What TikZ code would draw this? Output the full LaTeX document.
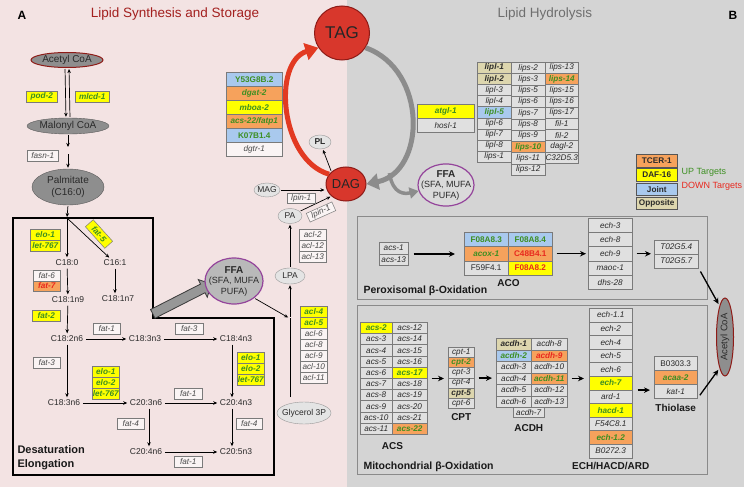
\documentclass[tikz,border=0pt]{standalone}
\usepackage{fontspec}
\setmainfont{Liberation Sans}
\usetikzlibrary{arrows.meta,shapes.geometric,shapes.arrows,positioning}

\definecolor{PinkBg}{HTML}{F3E3E3}
\definecolor{GrayBg}{HTML}{D4D4D4}
\definecolor{TitleRed}{HTML}{A3201F}
\definecolor{TitleGray}{HTML}{6E6E6E}
\definecolor{UpGreen}{HTML}{3D8F22}
\definecolor{DownRed}{HTML}{E8281E}
\definecolor{BoxYellow}{HTML}{FFFF00}
\definecolor{BoxOrange}{HTML}{F6A25C}
\definecolor{BoxBlue}{HTML}{A9C9EE}
\definecolor{BoxTan}{HTML}{DDD6AE}
\definecolor{BoxLight}{HTML}{E0E0E0}
\definecolor{BoxWhite}{HTML}{FAF4F4}
\definecolor{BoxLine}{HTML}{7A7A7A}
\definecolor{TextDark}{HTML}{2A2A2A}
\definecolor{EllGray}{HTML}{8E8E8E}
\definecolor{EllLight}{HTML}{E4E4E4}
\definecolor{FfaGray}{HTML}{B9B9B9}
\definecolor{FfaLight}{HTML}{DADADA}
\definecolor{FfaPurple}{HTML}{94449B}
\definecolor{DagRed}{HTML}{D8372C}
\definecolor{DarkRed}{HTML}{8E1B17}
\definecolor{ArcRed}{HTML}{E23A22}
\definecolor{ArcGray}{HTML}{8C8C8C}
\definecolor{FrameGray}{HTML}{8A8A8A}

\newcommand{\GeneFont}{\fontsize{8.2}{9}\selectfont}

\begin{document}
\begin{tikzpicture}[
    % Environment Config
    x=1pt, y=-1pt,
    font=\fontsize{9}{10.5}\selectfont,
    Gene/.style={% Style for a gene box
      draw=BoxLine, line width=0.5pt,
      inner sep=0pt, anchor=north west,
      font=\GeneFont\itshape, text=TextDark
    },
    wht/.style={fill=BoxWhite, text=TextDark!85},
    lgt/.style={fill=BoxLight},
    lgtn/.style={fill=BoxLight, font=\GeneFont},
    yup/.style={fill=BoxYellow, text=UpGreen, font=\GeneFont\bfseries\itshape},
    oup/.style={fill=BoxOrange, text=UpGreen, font=\GeneFont\bfseries\itshape},
    bup/.style={fill=BoxBlue, text=UpGreen, font=\GeneFont\bfseries\itshape},
    bupn/.style={fill=BoxBlue, text=UpGreen, font=\GeneFont\bfseries},
    odn/.style={fill=BoxOrange, text=DownRed, font=\GeneFont\bfseries\itshape},
    odnn/.style={fill=BoxOrange, text=DownRed, font=\GeneFont\bfseries},
    ydnn/.style={fill=BoxYellow, text=DownRed, font=\GeneFont\bfseries},
    tanb/.style={fill=BoxTan, font=\GeneFont\bfseries\itshape},
    Leg/.style={% Style for the legend boxes
      Gene, draw=BoxLine!70!black, minimum width=41pt, minimum height=12.5pt,
      font=\GeneFont\bfseries
    },
    Acid/.style={font=\fontsize{8.5}{10}\selectfont, text=TextDark, inner sep=1.5pt},
    Arr/.style={% Style for the thin reaction arrows
      -{Stealth[length=4pt,width=3.5pt]},
      line width=0.7pt,
      shorten >=1pt,
      shorten <=1pt
    },
    OxArr/.style={% Style for the oxidation arrows
      -{Stealth[length=6pt,width=5.5pt]},
      line width=1.3pt,
      shorten >=4pt,
      shorten <=4pt
    },
    Metab/.style={ellipse, draw=gray!70!black, fill=EllGray, inner sep=0pt,
      font=\fontsize{10}{11.5}\selectfont, text=TextDark},
    Small/.style={ellipse, draw=gray!80, fill=EllLight, inner sep=0pt, inner xsep=-3pt,
      font=\fontsize{8.5}{10}\selectfont, text=TextDark},
    Big/.style={ellipse, fill=DagRed, draw=DarkRed, line width=1pt, inner sep=0pt, text=black!85},
    Ffa/.style={ellipse, draw=FfaPurple, line width=1.2pt, align=center,
      inner xsep=-8pt, inner ysep=0pt, text=TextDark, font=\fontsize{9}{10.5}\selectfont},
    Group/.style={font=\fontsize{10}{12}\selectfont\bfseries, text=black!90},
    Frame/.style={draw=FrameGray, line width=1pt},
    RedArc/.style={draw=ArcRed, line width=5pt, -{Triangle[length=13pt,width=17pt]}},
    GrayArc/.style={draw=ArcGray, line width=5pt, -{Triangle[length=12pt,width=16pt]}}
  ]

  \def\GeneCol(#1)#2#3#4#5{% Column of gene boxes: corner, width, height, name, list
    \begin{scope}[shift={(#1)}]
      \foreach \st/\txt [count=\i from 0] in {#5}
        \node[Gene,\st,minimum width=#2pt,minimum height=#3pt] (#4\i) at (0,\i*#3) {\txt};
    \end{scope}
  }

  \useasboundingbox (0,0) rectangle (744,487);

  % Backgrounds
  \fill[PinkBg] (0,0) rectangle (347,487);
  \fill[GrayBg] (347,0) rectangle (744,487);

  % Titles
  \node[font=\fontsize{12}{14}\selectfont\bfseries] (labA) at (22,15) {A};
  \node[font=\fontsize{13.5}{16}\selectfont, text=TitleRed] (titleA) at (175,14) {Lipid Synthesis and Storage};
  \node[font=\fontsize{13.5}{16}\selectfont, text=TitleGray] (titleB) at (545,14) {Lipid Hydrolysis};
  \node[font=\fontsize{12}{14}\selectfont\bfseries] (labB) at (733,15) {B};

  %===Synthesis: Acetyl CoA to Palmitate===
  \node[Metab, draw=DarkRed, line width=1pt, minimum width=72pt, minimum height=15pt] (acoa) at (67,60) {Acetyl CoA};
  \node[Metab, minimum width=82pt, minimum height=16pt] (mcoa) at (68,126) {Malonyl CoA};
  \node[Metab, minimum width=72pt, minimum height=36pt, align=center] (palm) at (68,187) {Palmitate\\(C16:0)};

  \draw[Arr] ([xshift=-2pt]acoa.south) -- ([xshift=-2pt]mcoa.north);
  \draw[Arr] ([xshift=2pt]mcoa.north) -- ([xshift=2pt]acoa.south);
  \GeneCol(26,91){31}{10.5}{podG}{yup/pod-2}
  \GeneCol(75,91){34}{10.5}{mlcdG}{yup/mlcd-1}

  \coordinate (fasnGap) at (68,150);
  \draw[Arr] (mcoa.south) -- ([yshift=2pt]fasnGap);
  \draw[Arr] ([yshift=-3pt]fasnGap) -- (palm.north);
  \GeneCol(27,150){31}{10.5}{fasnG}{wht/fasn-1}

  %===Desaturation / Elongation===
  \draw[line width=1.3pt] (13,218) -- (153,218) -- (153,318) -- (274,318)
    -- (274,475) -- (13,475) -- cycle;
  \coordinate (split) at (67,218);
  \draw[Arr] (palm.south) -- (split);
  \node[Group, anchor=north west, align=left, font=\fontsize{11}{13.5}\selectfont\bfseries]
    (desat) at (14,442) {Desaturation\\Elongation};

  % Fatty acids
  \node[Acid] (c180) at (67,263) {C18:0};
  \node[Acid] (c161) at (115,263) {C16:1};
  \node[Acid] (c181n9) at (68,300) {C18:1n9};
  \node[Acid] (c181n7) at (118,299) {C18:1n7};
  \node[Acid] (c182n6) at (67,339) {C18:2n6};
  \node[Acid] (c183n3) at (145,339) {C18:3n3};
  \node[Acid] (c184n3) at (236,339) {C18:4n3};
  \node[Acid] (c183n6) at (64,403) {C18:3n6};
  \node[Acid] (c203n6) at (146,403) {C20:3n6};
  \node[Acid] (c204n3) at (236,403) {C20:4n3};
  \node[Acid] (c204n6) at (146,452) {C20:4n6};
  \node[Acid] (c205n3) at (236,452) {C20:5n3};

  \draw[Arr] (split) -- (c180);
  \draw[Arr] (split) -- (c161);
  \draw[Arr] (c180) -- (c181n9);
  \draw[Arr] (c161) -- (c161 |- c181n7.north);
  \draw[Arr] (c181n9) -- (c182n6);
  \draw[Arr] (c182n6) -- (c183n3);
  \draw[Arr] (c183n3) -- (c184n3);
  \draw[Arr] (c182n6.south) -- (c182n6.south |- c183n6.north);
  \draw[Arr] (c183n6) -- (c203n6);
  \draw[Arr] (c203n6) -- (c204n3);
  \draw[Arr] ([xshift=-4pt]c184n3.south) -- ([xshift=-4pt]c204n3.north);
  \draw[Arr] ([xshift=3pt]c203n6.south) -- ([xshift=3pt]c204n6.north);
  \draw[Arr] (c204n6) -- (c205n3);
  \draw[Arr] ([xshift=-4pt]c204n3.south) -- ([xshift=-4pt]c205n3.north);

  % Enzymes of the desaturation box
  \GeneCol(30,229){30}{11}{eloA}{yup/elo-1,yup/let-767}
  \node[Gene,yup,anchor=center,rotate=-48,minimum width=29pt,minimum height=10.5pt] (fat5) at (99,234) {fat-5};
  \GeneCol(33,270){27}{10.5}{fatB}{wht/fat-6,odn/fat-7}
  \GeneCol(32,310){28}{10.5}{fatC}{yup/fat-2}
  \GeneCol(93,323){27}{10.5}{fatD}{wht/fat-1}
  \GeneCol(175,323){28}{10.5}{fatE}{wht/fat-3}
  \GeneCol(33,357){27}{10.5}{fatF}{wht/fat-3}
  \GeneCol(92,366){27}{11}{eloG}{yup/elo-1,yup/elo-2,yup/let-767}
  \GeneCol(174,388){28}{10.5}{fatH}{wht/fat-1}
  \GeneCol(117,418){27}{10.5}{fatI}{wht/fat-4}
  \GeneCol(237,352){27}{11}{eloJ}{yup/elo-1,yup/elo-2,yup/let-767}
  \GeneCol(236,418){26}{10.5}{fatK}{wht/fat-4}
  \GeneCol(174,456){28}{10.5}{fatL}{wht/fat-1}

  %===Storage: FFA to TAG===
  \node[single arrow, draw=gray!45!black, fill=ArcGray!90, line width=0.8pt,
    minimum height=66pt, inner sep=4.5pt, single arrow head extend=5pt,
    single arrow head indent=0pt, rotate=27] (bigArr) at (180,300) {};
  \node[Ffa, fill=FfaGray, minimum width=58pt, minimum height=46pt] (ffaL) at (234,281)
    {{\fontsize{10}{10.5}\selectfont\bfseries FFA}\\(SFA, MUFA\\PUFA)};

  \node[Small, minimum width=54pt, minimum height=22pt] (g3p) at (304,413) {Glycerol 3P};
  \node[Small, minimum width=30pt, minimum height=16pt] (lpa) at (290,276) {LPA};
  \node[Small, minimum width=24pt, minimum height=15pt] (pa) at (290,216) {PA};
  \node[Small, minimum width=26pt, minimum height=14pt] (mag) at (267,190) {MAG};
  \node[Small, minimum width=22pt, minimum height=14pt, font=\fontsize{8.5}{10}\selectfont\bfseries] (pl) at (320,142) {PL};
  \node[Big, minimum width=40pt, minimum height=34pt, font=\fontsize{13}{15}\selectfont] (dag) at (346,184) {DAG};
  \node[Big, minimum width=55pt, minimum height=54pt, font=\fontsize{17}{19}\selectfont] (tag) at (342,33) {TAG};

  \coordinate (glyLine) at (290,397);
  \coordinate (ffaJoin) at (290,318);
  \draw[line width=0.7pt] (glyLine) -- (ffaJoin);
  \draw[Arr] (ffaJoin) -- (lpa);
  \draw[Arr] (ffaL.-40) -- ([xshift=-1pt]ffaJoin);
  \draw[Arr] (lpa) -- (pa);
  \draw[Arr] (pa) -- (dag.220);
  \draw[Arr] (mag) -- (mag -| dag.west);
  \draw[Arr] (dag.140) -- (pl);

  \GeneCol(299,229){27}{11}{aclA}{wht/acl-2,wht/acl-12,wht/acl-13}
  \GeneCol(300,306){27}{11}{aclB}{yup/acl-4,yup/acl-5,wht/acl-6,wht/acl-8,wht/acl-9,wht/acl-10,wht/acl-11}
  \GeneCol(287,193){28}{9.5}{lpinA}{wht/lpin-1}
  \node[Gene,wht,anchor=center,rotate=24,minimum width=28pt,minimum height=9.5pt] (lpinB) at (321,212) {lpin-1};

  % DAG -> TAG
  \draw[RedArc] (dag.150) .. controls (280,160) and (272,62) .. (tag.212);
  \GeneCol(226,72){56}{14}{tagG}{bupn/Y53G8B.2,oup/dgat-2,yup/mboa-2,oup/{acs-22/fatp1},bupn/K07B1.4,wht/dgtr-1}

  %===Hydrolysis: TAG to DAG and FFA===
  \node[Ffa, fill=FfaLight, minimum width=56pt, minimum height=38pt] (ffaR) at (446,185)
    {{\fontsize{10}{10.5}\selectfont\bfseries FFA}\\(SFA, MUFA\\PUFA)};
  \draw[GrayArc] (tag.-32) .. controls (428,70) and (426,172) .. (dag.east)
    coordinate[pos=0.85] (arcFoot);
  \draw[GrayArc, line width=3.5pt, -{Triangle[length=9pt,width=11pt]}]
    (arcFoot) .. controls (393,195) and (405,194) .. (ffaR);

  \GeneCol(417,104){57}{14}{atgl}{yup/atgl-1,lgt/hosl-1}
  \GeneCol(477,62){34}{11.1}{lipA}{tanb/lipl-1,tanb/lipl-2,lgt/lipl-3,lgt/lipl-4,bup/lipl-5,lgt/lipl-6,lgt/lipl-7,lgt/lipl-8,lgt/lips-1}
  \GeneCol(511,62){34}{11.3}{lipB}{lgt/lips-2,lgt/lips-3,lgt/lips-5,lgt/lips-6,lgt/lips-7,lgt/lips-8,lgt/lips-9,oup/lips-10,lgt/lips-11,lgt/lips-12}
  \GeneCol(545,62){33}{11.2}{lipC}{lgt/lips-13,oup/lips-14,lgt/lips-15,lgt/lips-16,lgt/lips-17,lgt/fil-1,lgt/fil-2,lgt/dagl-2,lgt/C32D5.3}

  %===Legend===
  \foreach \fc/\txt [count=\i from 0] in {BoxOrange/TCER-1,BoxYellow/DAF-16,BoxBlue/Joint,BoxTan/Opposite}
    \node[Leg, fill=\fc] (leg\i) at (636,154+\i*14.3) {\txt};
  \node[anchor=west, text=UpGreen] (upT) at (678,172) {UP Targets};
  \node[anchor=west, text=DownRed] (downT) at (678,186) {DOWN Targets};

  %===Peroxisomal beta-oxidation===
  \draw[Frame] (357,216) rectangle (707,299);
  \node[Group, anchor=west, font=\fontsize{10.5}{12}\selectfont\bfseries] (peroxT) at (360,291) {Peroxisomal β-Oxidation};
  \GeneCol(379,242){29}{11.5}{pacs}{lgt/acs-1,lgt/acs-13}
  \GeneCol(464,232){44}{14.3}{acoA}{bupn/F08A8.3,oup/acox-1,lgtn/F59F4.1}
  \GeneCol(508,232){44}{14.3}{acoB}{bupn/F08A8.4,odnn/C48B4.1,ydnn/F08A8.2}
  \node[Group, below=1pt of acoA2.south east] (ACO) {ACO};
  \GeneCol(588,218){44}{14.2}{pech}{lgt/ech-3,lgt/ech-8,lgt/ech-9,lgt/maoc-1,lgt/dhs-28}
  \GeneCol(654,239.5){44}{14}{tg}{lgt/T02G5.4,lgt/T02G5.7}
  \node[Metab, draw=DarkRed, line width=1pt, minimum width=17pt, minimum height=78pt,
    font=\fontsize{9.5}{11}\selectfont] (acoaR) at (725,337) {\rotatebox{90}{Acetyl CoA}};

  \draw[OxArr, shorten <=5pt, shorten >=9pt] (pacs0.south east) -- (pacs0.south east -| acoA0.west);
  \draw[OxArr, shorten >=2pt] (acoB1.east) -- (acoB1.east -| pech0.west);
  \draw[OxArr, shorten >=3pt] (pech2.east) -- (pech2.east -| tg0.west);
  \draw[OxArr, shorten >=2pt] (tg1.south east) -- (acoaR.100);

  %===Mitochondrial beta-oxidation===
  \draw[Frame] (357,305) rectangle (707,474);
  \node[Group, anchor=west, font=\fontsize{10.5}{12}\selectfont\bfseries] (mitoT) at (360,467) {Mitochondrial β-Oxidation};
  \GeneCol(360,322){32}{11.2}{acsA}{yup/acs-2,lgt/acs-3,lgt/acs-4,lgt/acs-5,lgt/acs-6,lgt/acs-7,lgt/acs-8,lgt/acs-9,lgt/acs-10,lgt/acs-11}
  \GeneCol(392,322){35}{11.2}{acsB}{lgt/acs-12,lgt/acs-14,lgt/acs-15,lgt/acs-16,yup/acs-17,lgt/acs-18,lgt/acs-19,lgt/acs-20,lgt/acs-21,oup/acs-22}
  \node[Group, below=4pt of acsA9.south east] (ACS) {ACS};
  \GeneCol(448,347){26}{10.2}{cpt}{lgt/cpt-1,oup/cpt-2,lgt/cpt-3,lgt/cpt-4,tanb/cpt-5,lgt/cpt-6}
  \node[Group, below=1pt of cpt5.south] (CPT) {CPT};
  \GeneCol(496,338){35}{11.5}{acdhA}{tanb/acdh-1,bup/acdh-2,lgt/acdh-3,lgt/acdh-4,lgt/acdh-5,lgt/acdh-6}
  \GeneCol(531,338){36}{11.5}{acdhB}{lgt/acdh-8,odn/acdh-9,lgt/acdh-10,oup/acdh-11,lgt/acdh-12,lgt/acdh-13}
  \GeneCol(513,407){31}{10}{acdhC}{lgt/acdh-7}
  \node[Group, below=3pt of acdhC0.south] (ACDH) {ACDH};
  \GeneCol(589,308){43}{13.6}{echM}{lgt/ech-1.1,lgt/ech-2,lgt/ech-4,lgt/ech-5,lgt/ech-6,yup/ech-7,lgt/ard-1,yup/hacd-1,lgt/F54C8.1,oup/ech-1.2,lgt/B0272.3}
  \node[Group, below=1pt of echM10.south] (ECH) {ECH/HACD/ARD};
  \GeneCol(654,356){43}{14}{thio}{lgtn/B0303.3,oup/acaa-2,lgt/kat-1}
  \node[Group, below=2pt of thio2.south] (THIO) {Thiolase};

  \draw[OxArr] (acsB4.south east) -- (acsB4.south east -| cpt0.west);
  \draw[OxArr] (cpt2.south east) -- (cpt2.south east -| acdhA0.west);
  \draw[OxArr, shorten >=5pt] (acdhB3.east) -- (acdhB3.east -| echM0.west);
  \draw[OxArr, shorten <=5pt] (echM5.south east) -- (echM5.south east -| thio0.west);
  \draw[OxArr, shorten >=2pt] (thio2.south east) -- (acoaR.-100);

\end{tikzpicture}
\end{document}
